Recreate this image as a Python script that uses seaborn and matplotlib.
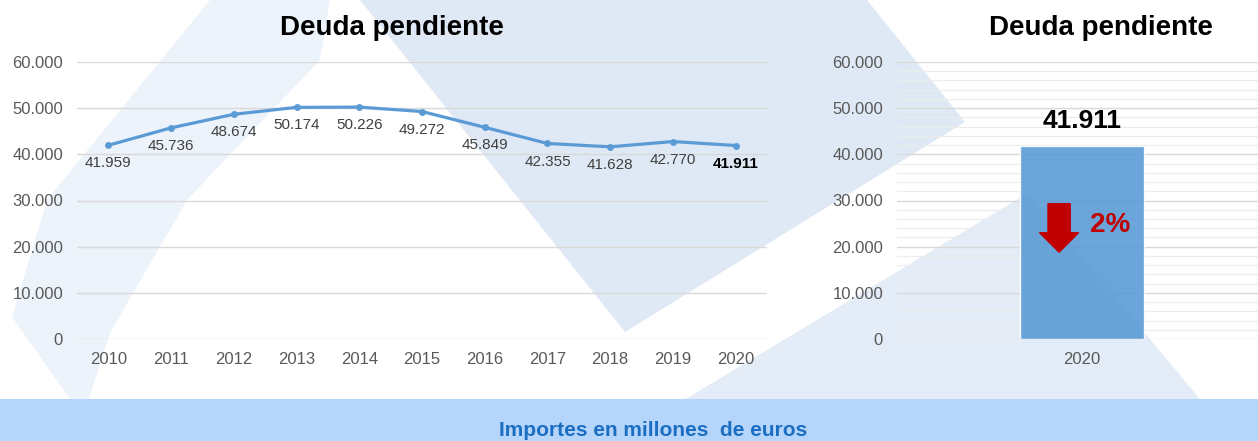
import matplotlib
matplotlib.use("Agg")
import matplotlib.pyplot as plt
from matplotlib.patches import Polygon, Rectangle
from matplotlib.ticker import FuncFormatter, MultipleLocator
import seaborn as sns
import pandas as pd

# data
years = [2010, 2011, 2012, 2013, 2014, 2015, 2016, 2017, 2018, 2019, 2020]
deuda = [41959, 45736, 48674, 50174, 50226, 49272, 45849, 42355, 41628, 42770, 41911]
bar_year = ["2020"]
bar_value = [41911]
variacion = "2%"
titulo = "Deuda pendiente"
pie = "Importes en millones  de euros"
y_ticks = [0, 10000, 20000, 30000, 40000, 50000, 60000]

sns.set_theme(style="white")
plt.rcParams["font.family"] = ["Liberation Sans", "DejaVu Sans"]

W, H = 1258, 441
fig = plt.figure(figsize=(W / 100, H / 100), dpi=100)
fig.patch.set_facecolor("white")


def px(points):
    # pixel coords (origin top-left) -> figure fraction
    return [(x / W, 1 - y / H) for x, y in points]


# slide background shapes
bg = [
    ([(360, 0), (867, 0), (965, 122), (625, 332)], "#dfe9f5"),
    ([(616, 441), (1028, 193), (1235, 441)], "#e3ecf7"),
    ([(210, 0), (330, 0), (320, 60), (187, 200), (110, 333), (83, 417),
      (12, 317), (47, 200)], "#edf3fa"),
]
for pts, c in bg:
    fig.patches.append(Polygon(px(pts), closed=True, transform=fig.transFigure,
                               facecolor=c, edgecolor="none", zorder=-2))
fig.patches.append(Rectangle((0, 0), 1, 42 / H, transform=fig.transFigure,
                             facecolor="#b5d6fa", edgecolor="none", zorder=-1))

grid_c = "#d9d9d9"
tick_c = "#595959"
line_c = "#5b9bd5"


def fmt(v):
    return f"{int(v):,}".replace(",", ".")


def style_axis(ax):
    ax.set_facecolor("none")
    for s in ax.spines.values():
        s.set_visible(False)
    ax.set_ylim(0, 60000)
    ax.set_yticks(y_ticks)
    ax.yaxis.set_major_formatter(FuncFormatter(lambda v, p: fmt(v)))
    ax.grid(axis="y", color=grid_c, linewidth=1)
    ax.grid(axis="x", visible=False)
    ax.tick_params(axis="both", length=0, labelsize=12, labelcolor=tick_c)
    ax.tick_params(axis="y", pad=10)
    ax.tick_params(axis="x", pad=9)
    ax.set_xlabel("")
    ax.set_ylabel("")


# left: line chart
ax1 = fig.add_axes([77 / W, 1 - 339 / H, 690 / W, 277 / H])
df = pd.DataFrame({"year": years, "deuda": deuda})
sns.lineplot(data=df, x="year", y="deuda", ax=ax1, color=line_c, linewidth=2.3,
             marker="o", markersize=5, markeredgewidth=0)
style_axis(ax1)
ax1.set_xlim(years[0] - 0.5, years[-1] + 0.5)
ax1.set_xticks(years)
for i, (x, y) in enumerate(zip(years, deuda)):
    last = i == len(years) - 1
    ax1.annotate(fmt(y), (x, y), xytext=(0, -13), textcoords="offset points",
                 ha="center", va="center", fontsize=11,
                 color="black" if last else "#404040",
                 fontweight="bold" if last else "normal")

# right: single bar
ax2 = fig.add_axes([897 / W, 1 - 339 / H, (W - 897) / W, 277 / H])
ax2.yaxis.set_minor_locator(MultipleLocator(2000))
ax2.grid(axis="y", which="minor", color="#eeeeee", linewidth=0.8)
sns.barplot(x=bar_year, y=bar_value, ax=ax2, color=line_c, alpha=0.9,
            width=0.343, saturation=1)
style_axis(ax2)
ax2.grid(axis="y", which="minor", color="#ececec", linewidth=0.8)
ax2.set_axisbelow(True)
ax2.set_xlim(-0.512, 0.488)
ax2.bar_label(ax2.containers[0], labels=[fmt(v) for v in bar_value], padding=9,
              fontsize=19, fontweight="bold", color="black")
ax2.annotate("", xy=(-0.063, 18800), xytext=(-0.063, 29300),
             arrowprops=dict(arrowstyle="simple,head_width=28,head_length=14,tail_width=16",
                             mutation_scale=1, color="#c00000", shrinkA=0, shrinkB=0))
ax2.text(0.078, 24700, variacion, ha="center", va="center", fontsize=20,
         fontweight="bold", color="#c00000")

fig.text(392 / W, 1 - 28 / H, titulo, ha="center", va="center", fontsize=20,
         fontweight="bold", color="black")
fig.text(1101 / W, 1 - 28 / H, titulo, ha="center", va="center", fontsize=20,
         fontweight="bold", color="black")
fig.text(653 / W, 1 - 436 / H, pie, ha="center", va="baseline", fontsize=15,
         fontweight="bold", color="#1b6ec2")

fig.savefig("out.png", dpi=100)
